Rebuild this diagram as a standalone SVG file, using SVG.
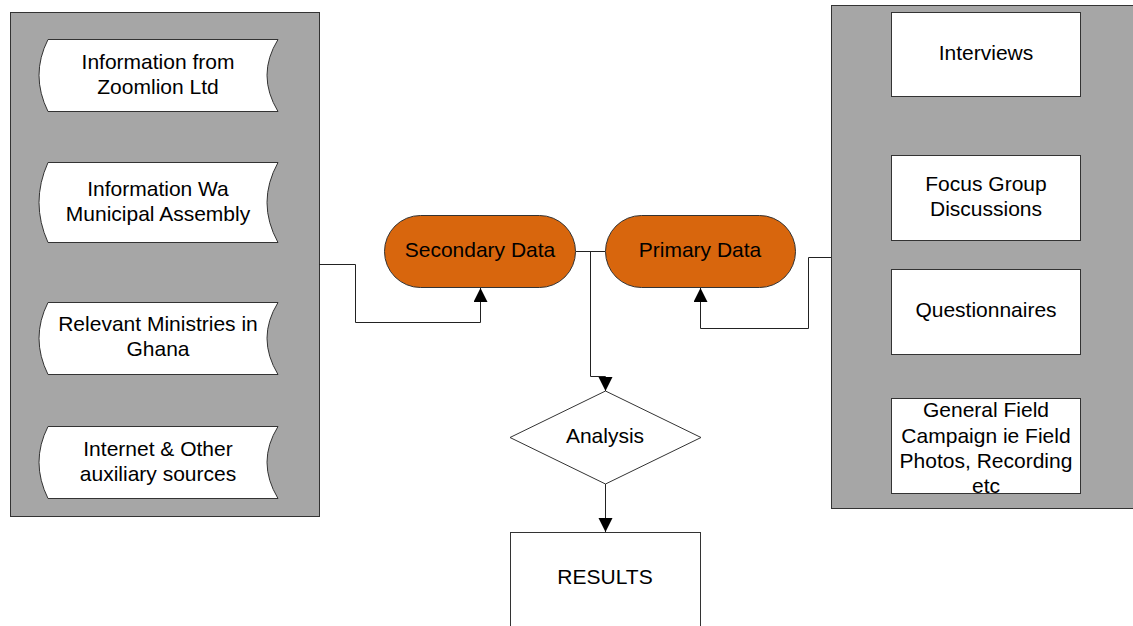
<svg xmlns="http://www.w3.org/2000/svg" width="1133" height="626" viewBox="0 0 1133 626">
<style>
text{font-family:"Liberation Sans",Arial,sans-serif;font-size:21px;fill:#000;text-anchor:middle}
.panel{fill:#A6A6A6;stroke:#333;stroke-width:1}
.box{fill:#fff;stroke:#333;stroke-width:1}
.pill{fill:#D8660D;stroke:#333;stroke-width:1}
.conn{fill:none;stroke:#222;stroke-width:1}
</style>
<defs>
<marker id="arr" markerWidth="14" markerHeight="15" refX="14" refY="7" orient="auto" markerUnits="userSpaceOnUse">
<path d="M0,0 L14,7 L0,14 Z" fill="#000"/>
</marker>
</defs>
<rect width="1133" height="626" fill="#fff"/>
<g id="left-panel">
<rect class="panel" x="10.5" y="12.5" width="309" height="504"/>
</g>
<g id="right-panel">
<rect class="panel" x="831.5" y="5.5" width="310" height="503"/>
</g>
<g id="zoomlion">
<path class="box" d="M48,39.5 L278,39.5 Q256,75 278,111.5 L48,111.5 Q30,75 48,39.5 Z"/>
<text x="158" y="69">Information from</text>
<text x="158" y="94">Zoomlion Ltd</text>
</g>
<g id="wa-municipal">
<path class="box" d="M48,162.5 L278,162.5 Q256,202.5 278,242.5 L48,242.5 Q30,202.5 48,162.5 Z"/>
<text x="158" y="196">Information Wa</text>
<text x="158" y="221">Municipal Assembly</text>
</g>
<g id="ministries">
<path class="box" d="M48,302.5 L278,302.5 Q256,338 278,374.5 L48,374.5 Q30,338 48,302.5 Z"/>
<text x="158" y="331">Relevant Ministries in</text>
<text x="158" y="356">Ghana</text>
</g>
<g id="internet">
<path class="box" d="M48,426.5 L278,426.5 Q256,462 278,498.5 L48,498.5 Q30,462 48,426.5 Z"/>
<text x="158" y="456">Internet &amp; Other</text>
<text x="158" y="481">auxiliary sources</text>
</g>
<g id="interviews">
<rect class="box" x="891.5" y="12.5" width="189" height="84"/>
<text x="986" y="60">Interviews</text>
</g>
<g id="focus-group">
<rect class="box" x="891.5" y="155.5" width="189" height="85"/>
<text x="986" y="191">Focus Group</text>
<text x="986" y="216">Discussions</text>
</g>
<g id="questionnaires">
<rect class="box" x="891.5" y="269.5" width="189" height="85"/>
<text x="986" y="317">Questionnaires</text>
</g>
<g id="general-field">
<rect class="box" x="891.5" y="398.5" width="189" height="95"/>
<text x="986" y="417">General Field</text>
<text x="986" y="442.5">Campaign ie Field</text>
<text x="986" y="468">Photos, Recording</text>
<text x="986" y="493">etc</text>
</g>
<g id="secondary-data">
<rect class="pill" x="384.5" y="215.5" width="191" height="72" rx="36" ry="36"/>
<text x="480" y="257">Secondary Data</text>
</g>
<g id="primary-data">
<rect class="pill" x="605.5" y="215.5" width="190" height="72" rx="36" ry="36"/>
<text x="700" y="257">Primary Data</text>
</g>
<g id="analysis">
<path class="box" d="M605.5,391 L701,437.5 L605.5,484 L510,437.5 Z"/>
<text x="605" y="443">Analysis</text>
</g>
<g id="results">
<rect class="box" x="510.5" y="532.5" width="190" height="110"/>
<text x="605" y="584">RESULTS</text>
</g>
<g id="connectors">
<path class="conn" d="M319,264.5 H355.5 V322.5 H480.5 V288" marker-end="url(#arr)"/>
<path class="conn" d="M831,257.5 H808.5 V328.5 H700.5 V288" marker-end="url(#arr)"/>
<path class="conn" d="M576,251.5 H605"/>
<path class="conn" d="M590.5,251.5 V376.5 H605.5 V391" marker-end="url(#arr)"/>
<path class="conn" d="M605.5,484 V532" marker-end="url(#arr)"/>
</g>
</svg>
